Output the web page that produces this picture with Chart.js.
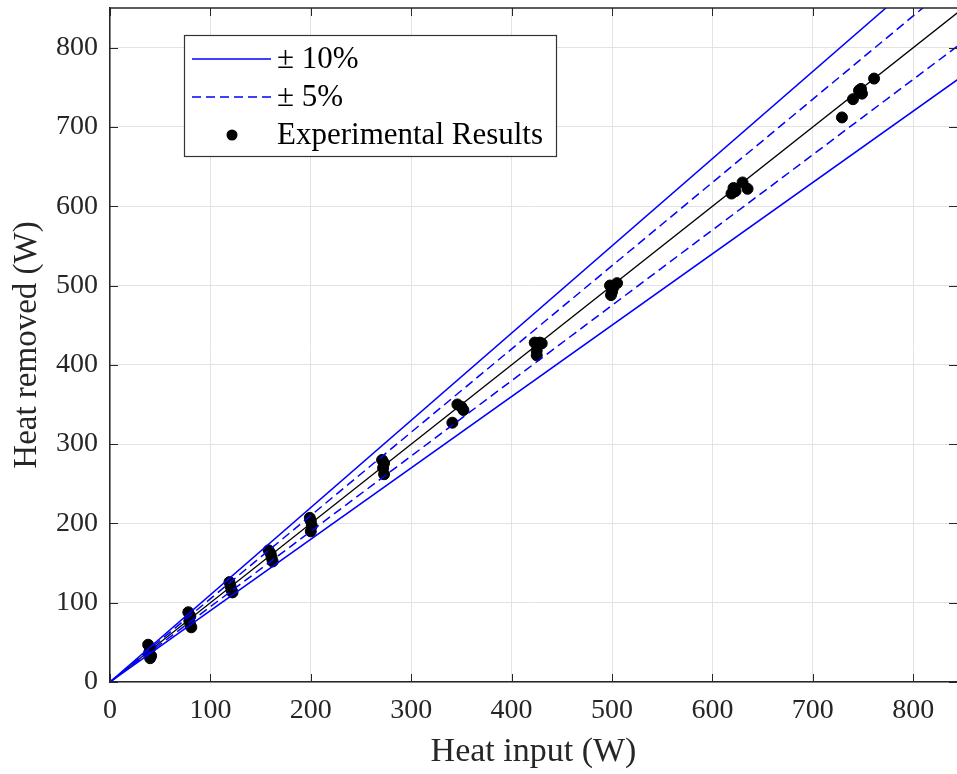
<!DOCTYPE html>
<html>
<head>
<meta charset="utf-8">
<script src="https://cdn.jsdelivr.net/npm/chart.js@4.4.1/dist/chart.umd.min.js"></script>
<style>
  body { margin: 0; background: #fff; overflow: hidden; }
  #wrap { width: 957px; height: 774px; }
  canvas { display: block; }
</style>
</head>
<body>
<div id="wrap"><canvas id="myChart" width="957" height="774"></canvas></div>
<script>
"use strict";

//////// data ////////
const lineX = [0, 850];
const parityY = [0, 850];
const plus10Y = [0, 935];
const minus10Y = [0, 765];
const plus5Y = [0, 892.5];
const minus5Y = [0, 807.5];

const expX = [38, 40, 39, 41, 40,
  78, 80, 79, 80, 81,
  119, 120, 121, 122,
  158, 160, 161, 162,
  199, 200, 201, 200,
  271, 273, 272, 273,
  346, 350, 352, 341,
  423, 428, 430, 425, 425,
  498, 505, 501, 500, 499,
  619, 621, 623, 630, 635,
  729, 740, 746, 749, 748, 761];
const expY = [47, 43, 37, 33, 30,
  88, 83, 77, 72, 69,
  126, 121, 116, 113,
  166, 162, 157, 152,
  207, 203, 197, 190,
  280, 276, 270, 262,
  350, 347, 343, 327,
  428, 428, 427, 418, 412,
  500, 503, 497, 492, 488,
  616, 623, 619, 630, 622,
  712, 735, 746, 742, 748, 761];

const legendNames = ["\u00b1 10%", "\u00b1 5%", "Experimental Results"];
const xTitle = "Heat input (W)";
const yTitle = "Heat removed (W)";

//////// styles ////////
const blue = "#0000ff";
const axisColor = "#262626";
const gridColor = "#e3e3e3";
const serif = "'Liberation Serif', 'Times New Roman', serif";
const dash = [9, 5];
const tickLen = 8;

const toPts = (xs, ys) => xs.map((x, i) => ({ x: x, y: ys[i] }));

const lineSet = (ys, color, width, dashed) => ({
  type: "line",
  data: toPts(lineX, ys),
  borderColor: color,
  borderWidth: width,
  borderDash: dashed ? dash : [],
  pointRadius: 0,
  fill: false,
});

// chart.js pads the plot for half a label, we don't want that
const noPad = (s) => {
  s.paddingTop = 0;
  s.paddingBottom = 0;
  s.paddingLeft = 0;
  s.paddingRight = 0;
};

//////// inward ticks + top frame (matlab look) ////////
const frameTicks = {
  id: "frameTicks",
  afterDatasetsDraw(chart) {
    const { ctx, chartArea: a, scales } = chart;
    ctx.save();
    ctx.strokeStyle = axisColor;
    ctx.lineWidth = 1;
    ctx.beginPath();
    scales.x.ticks.forEach((t) => {
      const px = Math.round(scales.x.getPixelForValue(t.value)) + 0.5;
      ctx.moveTo(px, a.bottom);
      ctx.lineTo(px, a.bottom - tickLen);
      ctx.moveTo(px, a.top);
      ctx.lineTo(px, a.top + tickLen);
    });
    scales.y.ticks.forEach((t) => {
      const py = Math.round(scales.y.getPixelForValue(t.value)) + 0.5;
      ctx.moveTo(a.left, py);
      ctx.lineTo(a.left + tickLen, py);
      ctx.moveTo(a.right, py);
      ctx.lineTo(a.right - tickLen, py);
    });
    ctx.stroke();
    ctx.lineWidth = 1.5;
    ctx.beginPath();
    ctx.moveTo(a.left, a.top);
    ctx.lineTo(a.right, a.top);
    ctx.stroke();
    ctx.restore();
  },
};

//////// legend box inside the plot ////////
const boxLegend = {
  id: "boxLegend",
  afterDraw(chart) {
    const ctx = chart.ctx;
    const bx = 184, by = 35, bw = 372, bh = 121;
    const rows = [59, 97, 135];
    ctx.save();
    ctx.fillStyle = "#fff";
    ctx.fillRect(bx, by, bw, bh);
    ctx.strokeStyle = "#333";
    ctx.lineWidth = 1.2;
    ctx.strokeRect(bx + 0.5, by + 0.5, bw, bh);

    ctx.strokeStyle = blue;
    ctx.lineWidth = 1.5;
    ctx.beginPath();
    ctx.moveTo(192, rows[0]);
    ctx.lineTo(271, rows[0]);
    ctx.stroke();
    ctx.setLineDash(dash);
    ctx.beginPath();
    ctx.moveTo(192, rows[1]);
    ctx.lineTo(271, rows[1]);
    ctx.stroke();
    ctx.setLineDash([]);

    ctx.fillStyle = "#000";
    ctx.beginPath();
    ctx.arc(232, rows[2], 5.5, 0, Math.PI * 2);
    ctx.fill();

    ctx.font = "31px " + serif;
    ctx.fillStyle = "#000";
    ctx.textBaseline = "middle";
    legendNames.forEach((name, i) => ctx.fillText(name, 277, rows[i] + 1));
    ctx.restore();
  },
};

const ctx = document.getElementById("myChart");

new Chart(ctx, {
  type: "scatter",
  data: {
    datasets: [
      lineSet(plus10Y, blue, 1.5, false),
      lineSet(minus10Y, blue, 1.5, false),
      lineSet(plus5Y, blue, 1.5, true),
      lineSet(minus5Y, blue, 1.5, true),
      lineSet(parityY, "#000", 1.3, false),
      {
        label: legendNames[2],
        data: toPts(expX, expY),
        backgroundColor: "#000",
        borderColor: "#000",
        pointRadius: 5.5,
        pointHoverRadius: 5.5,
      },
    ],
  },
  options: {
    responsive: false,
    animation: false,
    events: [],
    layout: { autoPadding: false, padding: { top: 8, right: 0, bottom: 0, left: 0 } },
    plugins: {
      legend: { display: false },
      tooltip: { enabled: false },
    },
    scales: {
      x: {
        type: "linear",
        min: 0,
        max: 843.6,
        afterFit: (s) => { s.height = 92; noPad(s); },
        ticks: {
          stepSize: 100,
          includeBounds: false,
          padding: 12,
          color: axisColor,
          font: { family: serif, size: 28 },
          maxRotation: 0,
          autoSkip: false,
        },
        grid: { color: gridColor, drawTicks: false },
        border: { color: axisColor, width: 1.5 },
        title: {
          display: true,
          text: xTitle,
          color: axisColor,
          font: { family: serif, size: 34, lineHeight: 1 },
          padding: { top: 0, bottom: 5 },
        },
      },
      y: {
        type: "linear",
        min: 0,
        max: 850,
        afterFit: (s) => { s.width = 110; noPad(s); },
        ticks: {
          stepSize: 100,
          includeBounds: false,
          padding: 12,
          color: axisColor,
          font: { family: serif, size: 28 },
          autoSkip: false,
        },
        grid: { color: gridColor, drawTicks: false },
        border: { color: axisColor, width: 1.5 },
        title: {
          display: true,
          text: yTitle,
          color: axisColor,
          font: { family: serif, size: 33, lineHeight: 1 },
          padding: { top: 11, bottom: 0 },
        },
      },
    },
  },
  plugins: [frameTicks, boxLegend],
});
</script>
</body>
</html>
